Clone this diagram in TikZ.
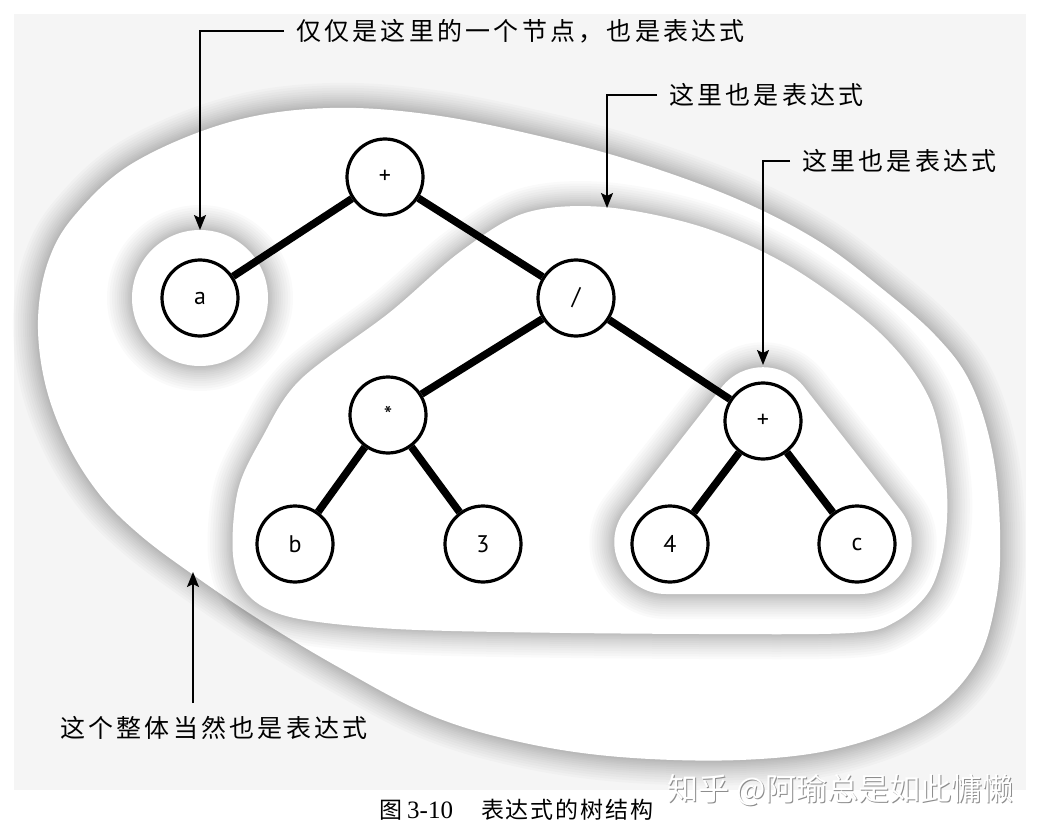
\documentclass[tikz,border=0pt]{standalone}
\usepackage{fontspec}
\setmainfont{Liberation Serif}
\newfontfamily\cjk[LetterSpace=13]{Noto Sans CJK SC}
\newfontfamily\cjkcap[LetterSpace=8]{Noto Sans CJK SC}
\newfontfamily\cjkwm{Noto Sans CJK SC}
\newfontfamily\lab{PT Sans}
\usetikzlibrary{arrows.meta}
\definecolor{bggray}{RGB}{245,245,245}
\newcommand{\shadowblob}[1]{%
  \foreach \w in {50,45,40,35,30,26,22,18,14,11,8,5,3}{%
    \draw[line width=\w pt,draw=black,draw opacity=0.018] #1;}%
  \fill[white] #1;}
\begin{document}
\begin{tikzpicture}[x=1pt,y=-1pt,
  tn/.style={circle,draw,line width=3.2pt,fill=white,minimum size=76pt,inner sep=0pt,
    font=\lab\fontsize{24}{24}\selectfont},
  edgeline/.style={line width=7.5pt},
  arr/.style={line width=1.6pt,-{Stealth[length=15pt,width=12pt,inset=3pt]}},
  lbl/.style={font=\cjk\fontsize{25}{30}\selectfont,inner ysep=0pt,inner xsep=12pt,anchor=west}]
\useasboundingbox (0,0) rectangle (1037,832);
\fill[white] (0,0) rectangle (1037,832);
\fill[bggray] (14,14) rectangle (1026,790);

% outer blob
\shadowblob{plot[smooth cycle,tension=0.6] coordinates {(330,108) (440,116) (568,143) (660,170) (746,203) (820,242) (880,287) (935,335) (970,382) (992,450) (1000,530) (996,600) (975,665) (925,715) (840,748) (740,760) (620,757) (520,742) (430,715) (340,668) (260,620) (192,574) (140,535) (100,495) (67,443) (45,383) (38,320) (48,262) (75,215) (133,163) (230,122)}}
% middle blob
\shadowblob{plot[smooth cycle,tension=0.55] coordinates {(604,207) (702,227) (791,267) (880,333) (930,400) (946,480) (945,540) (930,590) (895,622) (850,633) (700,634) (500,632) (380,628) (290,617) (248,595) (233,555) (238,490) (262,438) (300,380) (389,313) (460,252) (525,213)}}
% triangle blob
\shadowblob{(763,594) -- (860,594) .. controls (903,594) and (927.2,544.4) .. (900.7,510.5) -- (804.3,387.3) .. controls (783.3,360.5) and (742.7,360.5) .. (721.7,387.3) -- (625.3,510.5) .. controls (598.8,544.4) and (623,594) .. (666,594) -- cycle}
% a blob
\shadowblob{(200,298) circle[radius=68pt]}

% tree
\node[tn] (root) at (385,177) {+};
\node[tn] (a) at (200,298) {a};
\node[tn] (div) at (576,298) {/};
\node[tn] (mul) at (388,415) {*};
\node[tn] (plus) at (763,421) {+};
\node[tn] (b) at (295,544) {b};
\node[tn] (n3) at (483,544) {3};
\node[tn] (n4) at (670,544) {4};
\node[tn] (c) at (857,544) {c};
\draw[edgeline] (root) -- (a);
\draw[edgeline] (root) -- (div);
\draw[edgeline] (div) -- (mul);
\draw[edgeline] (div) -- (plus);
\draw[edgeline] (mul) -- (b);
\draw[edgeline] (mul) -- (n3);
\draw[edgeline] (plus) -- (n4);
\draw[edgeline] (plus) -- (c);

% callouts
\node[lbl] (t1) at (284,31) {仅仅是这里的一个节点，也是表达式};
\node[lbl] (t2) at (657,95) {这里也是表达式};
\node[lbl] (t3) at (790,161) {这里也是表达式};
\node[lbl,inner ysep=13pt] (t4) at (48,728) {这个整体当然也是表达式};
\coordinate (p1) at (200,230);
\coordinate (p2) at (607,208);
\coordinate (p3) at (763,365);
\coordinate (p4) at (193,572);
\draw[arr] (t1.west) -| (p1);
\draw[arr] (t2.west) -| (p2);
\draw[arr] (t3.west) -| (p3);
\draw[arr] (t4.north -| p4) -- (p4);

% caption
\node[anchor=west,inner sep=0pt] (cap) at (379,810)
  {{\cjkcap\fontsize{23}{23}\selectfont 图}\hspace{5pt}{\fontsize{25}{25}\selectfont 3-10}\hspace{28pt}{\cjkcap\fontsize{23}{23}\selectfont 表达式的树结构}};
% watermark
\node[anchor=west,inner sep=0pt,text=black!45,font=\cjkwm\fontsize{31}{31}\selectfont] (wmsh) at (668.5,791.5) {知乎 @阿瑜总是如此慵懒};
\node[anchor=west,inner sep=0pt,text=white,font=\cjkwm\fontsize{31}{31}\selectfont] (wm) at (667,790) {知乎 @阿瑜总是如此慵懒};
\end{tikzpicture}
\end{document}
